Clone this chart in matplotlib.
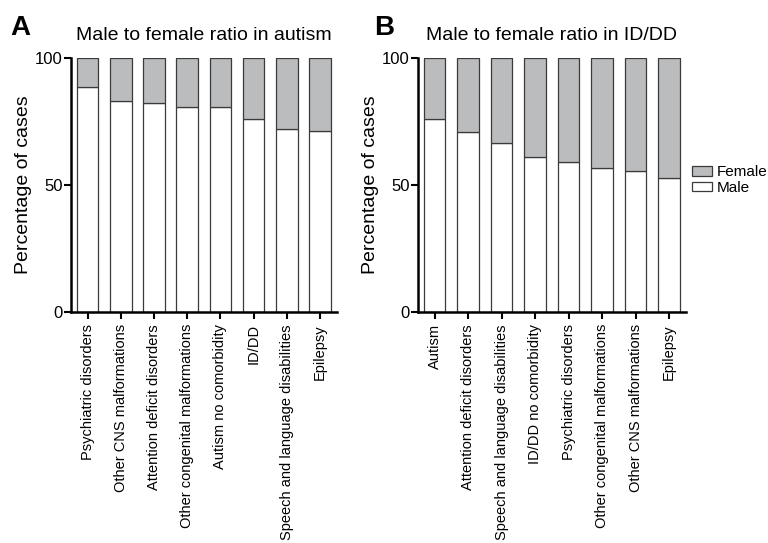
import matplotlib.pyplot as plt
import numpy as np

plt.rcParams['font.family'] = ['Liberation Sans', 'DejaVu Sans']

# panel A: autism
cats_a = ['Psychiatric disorders', 'Other CNS malformations', 'Attention deficit disorders',
          'Other congenital malformations', 'Autism no comorbidity', 'ID/DD',
          'Speech and language disabilities', 'Epilepsy']
male_a = [88.8, 83.2, 82.5, 80.7, 80.6, 76.1, 72.0, 71.3]

# panel B: ID/DD
cats_b = ['Autism', 'Attention deficit disorders', 'Speech and language disabilities',
          'ID/DD no comorbidity', 'Psychiatric disorders', 'Other congenital malformations',
          'Other CNS malformations', 'Epilepsy']
male_b = [76.2, 70.9, 66.4, 60.9, 59.1, 56.8, 55.4, 53.0]

female_color = '#bbbcbe'
edge = '#3a3a3a'

fig = plt.figure(figsize=(7.68, 5.43), dpi=100)
ax_a = fig.add_axes([0.0924, 0.425, 0.346, 0.468])
ax_b = fig.add_axes([0.544, 0.425, 0.349, 0.468])


def draw(ax, cats, male, title):
    x = np.arange(len(cats))
    female = [100 - m for m in male]
    ax.bar(x, male, width=0.65, color='white', edgecolor=edge, linewidth=0.9, label='Male')
    ax.bar(x, female, width=0.65, bottom=male, color=female_color, edgecolor=edge,
           linewidth=0.9, label='Female')
    ax.set_xlim(-0.5, 7.5)
    ax.set_ylim(0, 100)
    ax.set_yticks([0, 50, 100])
    ax.set_xticks(x)
    ax.set_xticklabels(cats, rotation=90, fontsize=10.5)
    ax.tick_params(axis='y', labelsize=12, width=1.5, length=5, pad=1)
    ax.tick_params(axis='x', width=1.5, length=5)
    for s in ['top', 'right']:
        ax.spines[s].set_visible(False)
    for s in ['left', 'bottom']:
        ax.spines[s].set_linewidth(1.8)
    ax.set_ylabel('Percentage of cases', fontsize=14, labelpad=2)
    ax.set_title(title, fontsize=14, pad=13)


draw(ax_a, cats_a, male_a, 'Male to female ratio in autism')
draw(ax_b, cats_b, male_b, 'Male to female ratio in ID/DD')

h, l = ax_b.get_legend_handles_labels()
ax_b.legend(h[::-1], l[::-1], loc='center left', bbox_to_anchor=(1.0, 0.52), frameon=False,
            fontsize=11, handlelength=1.3, handleheight=0.6, labelspacing=0.1,
            borderaxespad=0, handletextpad=0.35)

fig.text(0.013, 0.935, 'A', fontsize=20, fontweight='bold')
fig.text(0.487, 0.935, 'B', fontsize=20, fontweight='bold')

fig.savefig('out.png', dpi=100)
